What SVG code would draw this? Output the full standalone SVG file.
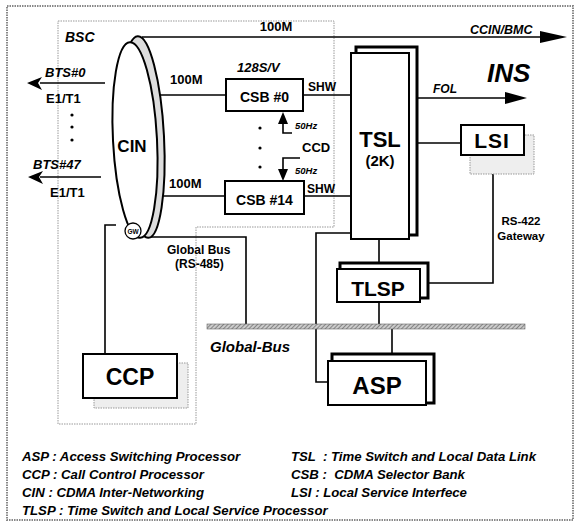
<svg xmlns="http://www.w3.org/2000/svg" width="576" height="524" viewBox="0 0 576 524">
<defs>
<style>
text{font-family:"Liberation Sans",Arial,sans-serif;font-weight:bold;fill:#000}
.i{font-style:italic}
.ln{fill:none;stroke:#000;stroke-width:1.6}
.dot{fill:none;stroke:#999;stroke-width:1;stroke-dasharray:1.5 1}
.box{fill:#fff;stroke:#000;stroke-width:2}
.shadow{fill:#eee;stroke:#999;stroke-width:1;stroke-dasharray:1.5 1}
.back{fill:#fff;stroke:#000;stroke-width:3}
.mid{text-anchor:middle}
</style>
<pattern id="hatch" width="3" height="3" patternUnits="userSpaceOnUse" patternTransform="rotate(45)">
<rect width="3" height="3" fill="#ccc"/>
<line x1="0" y1="0" x2="0" y2="3" stroke="#555" stroke-width="1.2"/>
</pattern>
</defs>

<rect x="7" y="6" width="566" height="514" fill="#fff" stroke="#888" stroke-width="2" stroke-dasharray="1.5 1"/>

<g id="bsc">
<path class="dot" d="M58,21 H334 V227 H196 V424 H58 Z"/>
<text class="i" x="65" y="42" font-size="14">BSC</text>
</g>

<g id="connectors">
<path class="ln" d="M142,37 H545"/>
<polygon points="567,37 540,31 540,43"/>
<path class="ln" d="M158,95 H226"/>
<path class="ln" d="M160,196 H225"/>
<path class="ln" d="M303,95 H351"/>
<path class="ln" d="M304,196 H351"/>
<path class="ln" d="M292,133 H283 V122"/>
<polygon points="283,112 278,124 288,124"/>
<path class="ln" d="M300,158 H283 V170"/>
<polygon points="283,181 278,169 288,169"/>
<path class="ln" d="M417,98 H510"/>
<polygon points="527,98 505,92 505,104"/>
<path class="ln" d="M417,143 H461"/>
<path class="ln" d="M493,155 V283 H428"/>
<path class="ln" d="M379,239 V263"/>
<path class="ln" d="M379,302 V324"/>
<path class="ln" d="M351,233 H316 V382 H328"/>
<path class="ln" d="M392,329 V353"/>
<path class="ln" d="M147,237 H246 V324"/>
<path class="ln" d="M116,225 H105 V354"/>
<path class="ln" d="M105,83 H40"/>
<polygon points="27,83 42,77 38,83 42,90"/>
<path class="ln" d="M101,177 H40"/>
<polygon points="28,177 43,171 39,177 43,184"/>
</g>

<g id="globalbus">
<rect x="207" y="324" width="318" height="5" fill="url(#hatch)" stroke="#666" stroke-width="0.6"/>
<text class="i" x="210" y="352" font-size="15">Global-Bus</text>
</g>

<g id="cin">
<ellipse cx="143" cy="137" rx="21" ry="101" fill="#ddd" stroke="#000" stroke-width="2" transform="rotate(-3 143 137)"/>
<ellipse cx="135" cy="140" rx="22" ry="98" fill="#fff" stroke="#000" stroke-width="2" transform="rotate(-3 135 140)"/>
<circle cx="133" cy="231" r="8" fill="#fff" stroke="#000" stroke-width="1.3"/>
<text class="mid" x="133" y="233.5" font-size="6.5">GW</text>
<text class="mid" x="132" y="152" font-size="17">CIN</text>
</g>

<g id="labels">
<text class="mid" x="276" y="31" font-size="13">100M</text>
<text class="i" x="470" y="34" font-size="12.5">CCIN/BMC</text>
<text x="170" y="84" font-size="13">100M</text>
<text x="169" y="188" font-size="13">100M</text>
<text class="i" x="237" y="72" font-size="13">128S/V</text>
<text x="308" y="91" font-size="12">SHW</text>
<text x="307" y="193" font-size="12">SHW</text>
<text class="i" x="295" y="129" font-size="9.5">50Hz</text>
<text class="i" x="295" y="174" font-size="9.5">50Hz</text>
<text x="302" y="152" font-size="13">CCD</text>
<text class="i" x="433" y="93" font-size="12">FOL</text>
<text class="i" x="487" y="82" font-size="26">INS</text>
<text class="mid" x="521" y="225" font-size="11.5">RS-422</text>
<text class="mid" x="521" y="240" font-size="11.5">Gateway</text>
<text x="167" y="254" font-size="12">Global Bus</text>
<text x="175" y="268" font-size="12">(RS-485)</text>
<text class="i" x="45" y="77" font-size="13">BTS#0</text>
<text x="46" y="103" font-size="13">E1/T1</text>
<text class="i" x="33" y="169" font-size="13">BTS#47</text>
<text x="50" y="197" font-size="13">E1/T1</text>
<circle cx="72" cy="115" r="1.6"/>
<circle cx="72" cy="127" r="1.6"/>
<circle cx="72" cy="140" r="1.6"/>
<circle cx="260" cy="128" r="1.6"/>
<circle cx="260" cy="148" r="1.6"/>
<circle cx="260" cy="167" r="1.6"/>
</g>

<g id="csb0">
<rect class="box" x="226" y="79" width="77" height="32"/>
<text class="mid" x="264.5" y="102" font-size="14">CSB #0</text>
</g>

<g id="csb14">
<rect class="box" x="225" y="181" width="79" height="33"/>
<text class="mid" x="264.5" y="205" font-size="14">CSB #14</text>
</g>

<g id="tsl">
<rect class="back" x="356" y="47" width="61" height="188"/>
<rect class="box" x="351" y="53" width="58" height="186"/>
<text class="mid" x="380" y="147" font-size="22">TSL</text>
<text class="mid" x="380" y="166" font-size="15">(2K)</text>
</g>

<g id="lsi">
<rect class="shadow" x="470" y="135" width="64" height="39"/>
<rect class="box" x="461" y="125" width="63" height="30"/>
<text class="mid" x="492" y="148" font-size="21" letter-spacing="1">LSI</text>
</g>

<g id="tlsp">
<rect class="back" x="340" y="263" width="88" height="35"/>
<rect class="box" x="337" y="269" width="83" height="33"/>
<text class="mid" x="378" y="296" font-size="21">TLSP</text>
</g>

<g id="ccp">
<rect class="shadow" x="94" y="363" width="94" height="45"/>
<rect class="box" x="83" y="354" width="94" height="44"/>
<text class="mid" x="130" y="385" font-size="23">CCP</text>
</g>

<g id="asp">
<rect class="back" x="332" y="354" width="102" height="49"/>
<rect class="box" x="328" y="361" width="98" height="44"/>
<text class="mid" x="377" y="394" font-size="24">ASP</text>
</g>

<g id="legend" font-size="13.2">
<text class="i" x="22" y="461">ASP : Access Switching Processor</text>
<text class="i" x="22" y="479">CCP : Call Control Processor</text>
<text class="i" x="22" y="497">CIN : CDMA Inter-Networking</text>
<text class="i" x="22" y="515">TLSP : Time Switch and Local Service Processor</text>
<text class="i" x="291" y="461" xml:space="preserve">TSL  : Time Switch and Local Data Link</text>
<text class="i" x="291" y="479" xml:space="preserve">CSB :  CDMA Selector Bank</text>
<text class="i" x="291" y="497">LSI : Local Service Interfece</text>
</g>
</svg>
